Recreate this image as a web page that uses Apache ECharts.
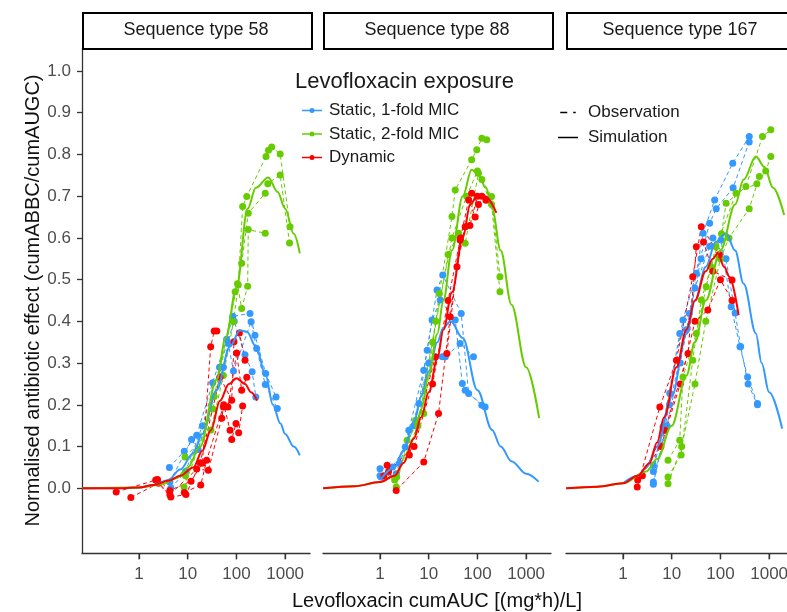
<!DOCTYPE html>
<html><head><meta charset="utf-8">
<script src="https://cdn.jsdelivr.net/npm/echarts@6/dist/echarts.min.js"></script>
<style>html,body{margin:0;padding:0;background:#fff}#c{width:787px;height:612px}</style>
</head><body><div id="c"></div><script>
// ---------- DATA ----------
const panels = ['Sequence type 58', 'Sequence type 88', 'Sequence type 167'];
const exposures = ['Static, 1-fold MIC', 'Static, 2-fold MIC', 'Dynamic'];
const xTicks = [1, 10, 100, 1000];
const yTicks = [0, 0.1, 0.2, 0.3, 0.4, 0.5, 0.6, 0.7, 0.8, 0.9, 1.0];

// Simulations [cumAUC, effect]
const simST58Static1 = [[0.068,0],[0.3,0],[1,0.002],[2,0.008],[4,0.02],[7,0.045],[13,0.084],[20,0.13],[39,0.235],[74,0.34],[118,0.379],[165,0.375],[250,0.34],[400,0.27],[560,0.2],[800,0.155],[1000,0.13],[1500,0.1],[2000,0.079]];
const simST58Static2 = [[0.068,0],[1,0.002],[3,0.01],[6,0.025],[10,0.05],[18,0.1],[39,0.26],[60,0.36],[100,0.48],[170,0.67],[250,0.72],[450,0.745],[700,0.71],[1000,0.67],[1500,0.61],[2000,0.563]];
const simST58Dynamic = [[0.068,0],[0.3,0],[1,0.002],[2,0.008],[4,0.018],[7,0.03],[13,0.05],[20,0.09],[30,0.14],[46,0.21],[70,0.25],[100,0.264],[150,0.25],[200,0.23],[265,0.21]];
const simST88Static1 = [[1,0.02],[2,0.05],[3,0.09],[5,0.16],[7,0.22],[10,0.28],[15,0.35],[20,0.385],[28,0.4],[50,0.36],[100,0.235],[200,0.14],[300,0.1],[500,0.065],[1000,0.035],[1800,0.016]];
const simST88Static2 = [[0.068,0],[0.3,0.005],[1,0.015],[2,0.03],[3,0.06],[5,0.12],[7,0.19],[10,0.27],[15,0.37],[20,0.45],[30,0.57],[50,0.7],[76,0.763],[100,0.755],[150,0.72],[200,0.67],[300,0.57],[500,0.44],[1000,0.29],[1850,0.168]];
const simST88Dynamic = [[0.068,0],[0.3,0.005],[1,0.015],[2,0.03],[3,0.06],[5,0.12],[7,0.17],[10,0.23],[15,0.31],[20,0.38],[30,0.47],[50,0.6],[71,0.68],[100,0.7],[144,0.7],[245,0.66]];
const simST167Static1 = [[1,0.012],[2,0.03],[3,0.05],[5,0.1],[10,0.22],[20,0.37],[30,0.45],[50,0.53],[80,0.59],[131,0.611],[200,0.57],[300,0.49],[535,0.371],[700,0.3],[1000,0.23],[1850,0.143]];
const simST167Static2 = [[0.068,0],[0.3,0.004],[1,0.012],[3,0.04],[5,0.07],[10,0.15],[20,0.27],[30,0.35],[50,0.45],[100,0.57],[200,0.68],[300,0.74],[535,0.795],[800,0.77],[1200,0.72],[2030,0.655]];
const simST167Dynamic = [[0.068,0],[0.3,0.004],[1,0.012],[2,0.03],[3.5,0.06],[5,0.11],[7,0.17],[12.5,0.29],[20,0.38],[30,0.45],[50,0.52],[70,0.55],[88,0.563],[120,0.53],[152,0.507],[236,0.415]];

// Observations: replicate curves of [cumAUC, effect]
const obsST58Static1 = [
  [[4.2,0.05],[8.5,0.089],[15.3,0.127],[32.5,0.253],[63,0.357],[84,0.412],[190,0.419],[240,0.367],[400,0.275],[650,0.219]],
  [[4.3,0.015],[12,0.117],[16.3,0.093],[54,0.29],[68,0.347],[87,0.281],[200,0.399],[260,0.335],[390,0.249],[690,0.191]],
  [[4.5,0.0],[9,0.04],[20,0.15],[45,0.29],[90,0.4],[150,0.32],[210,0.279],[250,0.219]]
];
const obsST58Static2 = [
  [[8.8,0.075],[30,0.14],[54,0.27],[87,0.399],[109,0.487],[134,0.675],[163,0.699],[405,0.795],[455,0.81],[530,0.818],[790,0.801],[1260,0.627]],
  [[8.4,0.003],[33,0.19],[94,0.471],[128,0.539],[175,0.659],[390,0.707],[440,0.73],[790,0.751],[1230,0.588]],
  [[9,0.03],[35,0.22],[105,0.49],[128,0.431],[170,0.484],[175,0.62],[390,0.611]]
];
const obsST58Dynamic = [
  [[0.34,-0.009],[2.4,0.021],[4.3,-0.005],[11.7,0.017],[20,0.06],[29.6,0.339],[35,0.377],[39.5,0.377]],
  [[0.68,-0.022],[2.5,0.012],[4.5,-0.021],[9.2,-0.015],[18,0.061],[46,0.267],[80,0.211],[89,0.351],[115,0.372],[150,0.307]],
  [[2.2,0.02],[4.3,-0.015],[15.3,0.046],[26.5,0.043],[50,0.168],[54,0.195],[67,0.195],[101,0.324],[128,0.235],[163,0.266]],
  [[8.5,-0.01],[18.5,0.008],[24.5,0.067],[55,0.2],[74,0.139],[80,0.117],[98,0.155],[111,0.133],[134,0.197]]
];
const obsST88Static1 = [
  [[1.0,0.047],[1.8,0.051],[3.3,0.099],[6.3,0.203],[9.3,0.331],[14.8,0.475],[19.4,0.511],[46.5,0.419],[66,0.227],[144,0.195]],
  [[1.05,0.027],[2.15,0.035],[3.9,0.139],[7.9,0.283],[11.7,0.403],[17.3,0.451],[35,0.403],[49,0.251],[56,0.235],[123,0.199]],
  [[1.0,0.03],[2.5,0.06],[5,0.15],[10,0.3],[19,0.315],[22,0.315],[44,0.347],[83,0.315]]
];
const obsST88Static2 = [
  [[2.15,0.003],[3.6,0.115],[7.9,0.179],[16.5,0.467],[30,0.651],[35,0.715],[76,0.787],[97,0.811],[123,0.839],[155,0.835]],
  [[2.2,0.027],[5.4,0.163],[12,0.35],[25,0.56],[41,0.611],[56,0.587],[105,0.755],[123,0.74],[195,0.699],[290,0.507]],
  [[2,0.02],[6,0.15],[14,0.4],[30,0.6],[60,0.7],[100,0.76],[195,0.68],[290,0.471]]
];
const obsST88Dynamic = [
  [[1.4,0.055],[2.15,-0.005],[7.9,0.063],[15.9,0.179],[27.6,0.411],[44,0.595],[66,0.691],[90,0.65],[123,0.7]],
  [[1.5,0.04],[4,0.08],[13.7,0.315],[23.6,0.323],[38,0.531],[56,0.627],[76,0.707],[105,0.68]],
  [[1.2,0.03],[5,0.1],[12,0.25],[25,0.45],[45,0.6],[70,0.63],[100,0.7],[150,0.69]]
];
const obsST167Static1 = [
  [[4.2,0.055],[6.6,0.147],[14.6,0.371],[23,0.419],[44,0.611],[76,0.691],[179,0.779],[390,0.843]],
  [[4.2,0.04],[9.1,0.228],[17,0.403],[32,0.515],[60,0.635],[82,0.67],[182,0.72],[390,0.83]],
  [[4.2,0.015],[8,0.15],[15,0.3],[30,0.48],[60,0.58],[103,0.595],[166,0.435],[252,0.339],[361,0.267],[575,0.203]],
  [[4.2,0.01],[9,0.2],[20,0.38],[40,0.55],[70,0.6],[130,0.55],[200,0.42],[260,0.34],[370,0.25],[575,0.2]]
];
const obsST167Static2 = [
  [[8.4,0.027],[15.6,0.08],[27,0.307],[40.5,0.451],[64,0.531],[105,0.61],[131,0.683],[333,0.723],[730,0.843],[1080,0.859]],
  [[8.4,0.067],[14.6,0.115],[17,0.267],[32,0.371],[51,0.483],[81,0.579],[209,0.707],[560,0.73],[850,0.76],[1080,0.795]],
  [[8.4,0.011],[16,0.1],[30,0.25],[50,0.4],[100,0.55],[150,0.6],[390,0.67],[630,0.747]]
];
const obsST167Dynamic = [
  [[1.96,0.003],[5.7,0.195],[12.5,0.307],[27,0.507],[40.5,0.627],[95,0.56]],
  [[2.5,0.03],[7.2,0.139],[21.6,0.323],[32,0.579],[45,0.59],[70,0.52],[173,0.499]],
  [[2,0.02],[6,0.1],[15,0.25],[30,0.4],[55,0.427],[100,0.5],[173,0.45]]
];

// ---------- BUILD ----------
const colors = ['#3399ff', '#66cc00', '#ff0000'];
const sims = [
  [simST58Static1, simST58Static2, simST58Dynamic],
  [simST88Static1, simST88Static2, simST88Dynamic],
  [simST167Static1, simST167Static2, simST167Dynamic]
];
const obs = [
  [obsST58Static1, obsST58Static2, obsST58Dynamic],
  [obsST88Static1, obsST88Static2, obsST88Dynamic],
  [obsST167Static1, obsST167Static2, obsST167Dynamic]
];
const lg = v => Math.log10(v);
const toXY = arr => arr.map(p => [lg(p[0]), p[1]]);

const lefts = [82, 323, 566];
const GW = 228, GT = 48, GH = 505;
const XMIN = -1.17, XMAX = 3.51, YMIN = -0.155, YMAX = 1.055;
const FONT = 'Liberation Sans, Arial, sans-serif';

const grid = lefts.map(l => ({left: l, top: GT, width: GW, height: GH, outerBoundsMode: 'none', containLabel: false}));
const xAxis = lefts.map((l, i) => ({
  type: 'value', gridIndex: i, min: XMIN, max: XMAX, position: 'bottom',
  axisLine: {show: true, onZero: false, lineStyle: {color: '#333', width: 1.3}},
  axisTick: {show: true, inside: false, length: 6, customValues: xTicks.map(lg), lineStyle: {color: '#333', width: 1.3}},
  axisLabel: {customValues: xTicks.map(lg), formatter: v => String(Math.round(Math.pow(10, v))), color: '#4d4d4d', fontSize: 17, margin: 13, fontFamily: FONT},
  splitLine: {show: false},
  name: i === 1 ? 'Levofloxacin cumAUC [(mg*h)/L]' : '',
  nameLocation: 'middle', nameGap: 38,
  nameTextStyle: {fontSize: 20, color: '#111', fontFamily: FONT}
}));
const yAxis = lefts.map((l, i) => ({
  type: 'value', gridIndex: i, min: YMIN, max: YMAX, position: 'left',
  show: i === 0,
  axisLine: {show: true, onZero: false, lineStyle: {color: '#333', width: 1.3}},
  axisTick: {show: true, length: 5, customValues: yTicks, lineStyle: {color: '#333', width: 1.3}},
  axisLabel: {customValues: yTicks, formatter: v => v.toFixed(1), color: '#4d4d4d', fontSize: 17, margin: 11, fontFamily: FONT},
  splitLine: {show: false},
  name: i === 0 ? 'Normalised antibiotic effect (cumABBC/cumAUGC)' : '',
  nameLocation: 'middle', nameGap: 37, nameRotate: 90,
  nameTextStyle: {fontSize: 20, color: '#111', fontFamily: FONT}
}));

const series = [];
exposures.forEach((name, k) => series.push({
  type: 'line', name, xAxisIndex: 0, yAxisIndex: 0, data: [],
  symbol: 'circle', symbolSize: 4, itemStyle: {color: colors[k]},
  lineStyle: {color: colors[k], width: 1.5}
}));
series.push({type: 'line', name: 'Observation', xAxisIndex: 0, yAxisIndex: 0, data: [], symbol: 'none',
  itemStyle: {color: '#000'}, lineStyle: {color: '#000', width: 1.5, type: [6, 4, 2, 4]}});
series.push({type: 'line', name: 'Simulation', xAxisIndex: 0, yAxisIndex: 0, data: [], symbol: 'none',
  itemStyle: {color: '#000'}, lineStyle: {color: '#000', width: 1.5}});

for (let p = 0; p < 3; p++) {
  for (let k = 0; k < 3; k++) {
    obs[p][k].forEach(rep => series.push({
      type: 'line', name: exposures[k], xAxisIndex: p, yAxisIndex: p,
      data: toXY(rep), symbol: 'circle', symbolSize: 7, showSymbol: true,
      itemStyle: {color: colors[k]},
      lineStyle: {color: colors[k], width: 1, type: [4, 3]},
      z: 2, silent: true
    }));
    series.push({
      type: 'line', name: exposures[k], xAxisIndex: p, yAxisIndex: p,
      data: toXY(sims[p][k]), symbol: 'none', smooth: 0.35, smoothMonotone: 'x',
      lineStyle: {color: colors[k], width: 2}, itemStyle: {color: colors[k]},
      z: 3, silent: true
    });
  }
  // x-axis tick marks placed through the axis scale at the bottom edge
  series.push({
    type: 'scatter', name: 'xticks' + p, xAxisIndex: p, yAxisIndex: p,
    data: xTicks.map(v => [lg(v), YMIN]), symbol: 'rect', symbolSize: [1.3, 6], symbolOffset: [0, 3.5],
    itemStyle: {color: '#333'}, clip: false, silent: true, z: 6
  });
}

const graphic = [];
lefts.forEach((l, i) => {
  graphic.push({type: 'rect', left: l, top: 12, shape: {width: GW + 1, height: 36},
    style: {fill: '#fff', stroke: '#000', lineWidth: 2}, z: 10});
  graphic.push({type: 'text', x: l + GW / 2, y: 30, z: 11,
    style: {text: panels[i], fill: '#1a1a1a', font: '18px ' + FONT, textAlign: 'center', textVerticalAlign: 'middle'}});
});
graphic.push({type: 'text', left: 295, top: 71, z: 11,
  style: {text: 'Levofloxacin exposure', fill: '#1a1a1a', font: '22px ' + FONT}});

// legend key glyphs
const iconPointLine = 'path://M0,1.8h20v1.4h-20z M7.5,2.5a2.5,2.5 0 1,1 5,0a2.5,2.5 0 1,1 -5,0z';
const iconDash = 'path://M0,0h7v1.5h-7z M13,0h2.5v1.5h-2.5z';
const iconSolid = 'path://M0,0h20v1.5h-20z';

const chart = echarts.init(document.getElementById('c'), null, {renderer: 'canvas'});
chart.setOption({
  animation: false,
  backgroundColor: '#fff',
  textStyle: {fontFamily: FONT},
  grid, xAxis, yAxis, series, graphic,
  legend: [
    {data: exposures.map(n => ({name: n, icon: iconPointLine})), orient: 'vertical', left: 297, top: 97,
     itemWidth: 20, itemHeight: 5, itemGap: 6.5,
     selectedMode: false, textStyle: {fontSize: 17, color: '#1a1a1a', fontFamily: FONT, padding: [0, 0, 0, 2]}},
    {data: [{name: 'Observation', icon: iconDash}, {name: 'Simulation', icon: iconSolid}], orient: 'vertical', left: 553, top: 99,
     itemWidth: 20, itemHeight: 1.5, itemGap: 8,
     selectedMode: false, textStyle: {fontSize: 17, color: '#1a1a1a', fontFamily: FONT, padding: [0, 0, 0, 5]}}
  ]
});
</script></body></html>
